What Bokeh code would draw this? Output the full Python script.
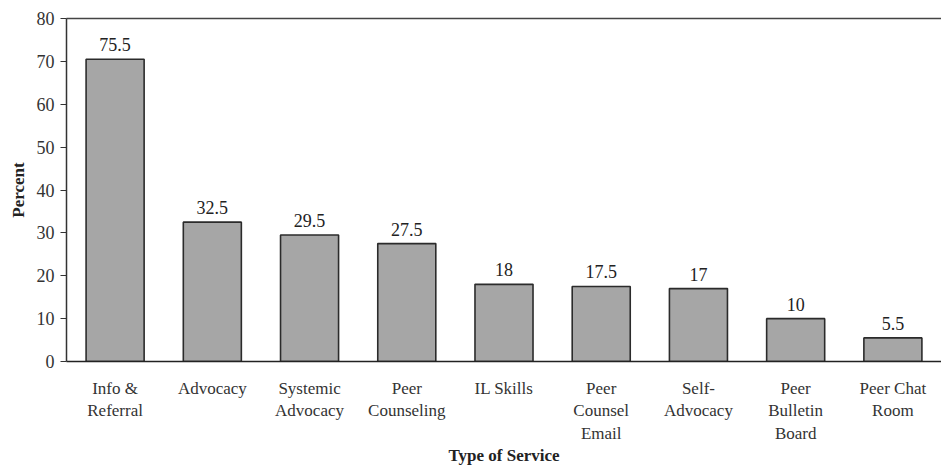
from bokeh.plotting import figure
from bokeh.models import FactorRange, Range1d, LinearAxis, FixedTicker, ColumnDataSource
from bokeh.core.properties import value
from bokeh.embed import file_html
from bokeh.resources import INLINE

categories = ["Info &\nReferral", "Advocacy", "Systemic\nAdvocacy", "Peer\nCounseling",
              "IL Skills", "Peer\nCounsel\nEmail", "Self-\nAdvocacy", "Peer\nBulletin\nBoard",
              "Peer Chat\nRoom"]
bar_heights = [70.5, 32.5, 29.5, 27.5, 18, 17.5, 17, 10, 5.5]
value_labels = ["75.5", "32.5", "29.5", "27.5", "18", "17.5", "17", "10", "5.5"]
y_ticks = [0, 10, 20, 30, 40, 50, 60, 70, 80]

FONT = "Liberation Serif"

src = ColumnDataSource(dict(cat=categories, h=bar_heights, lab=value_labels))

p = figure(width=941, height=468, output_backend="svg", toolbar_location=None,
           x_range=FactorRange(factors=categories, range_padding=0),
           y_range=Range1d(0, 80),
           min_border_left=66, min_border_right=0, min_border_top=18, min_border_bottom=107)
p.outline_line_color = None
p.xgrid.grid_line_color = None
p.ygrid.grid_line_color = None
p.background_fill_color = "white"

p.vbar(x="cat", top="h", width=0.597, source=src, fill_color="#a6a6a6",
       line_color="#2b2b2b", line_width=1.6)
p.text(x="cat", y="h", text="lab", source=src, text_align="center", text_baseline="bottom",
       y_offset=-8, text_font=value(FONT), text_font_size="18px", text_color="#222222")

# y axis
ya = p.yaxis[0]
ya.ticker = FixedTicker(ticks=y_ticks)
ya.axis_line_color = "#333333"
ya.axis_line_width = 1.5
ya.major_tick_line_color = "#333333"
ya.major_tick_out = 6
ya.major_tick_in = 0
ya.minor_tick_line_color = None
ya.major_label_standoff = 6
ya.major_label_text_font = FONT
ya.major_label_text_font_size = "18px"
ya.major_label_text_color = "#333333"
ya.axis_label = "Percent"
ya.axis_label_text_font = FONT
ya.axis_label_text_font_style = "bold"
ya.axis_label_text_font_size = "17px"
ya.axis_label_text_color = "#222222"
ya.axis_label_standoff = 6

# x axis
xa = p.xaxis[0]
xa.axis_line_color = "#222222"
xa.axis_line_width = 1.5
xa.major_tick_line_color = None
xa.major_tick_out = 0
xa.major_label_standoff = 17
xa.major_label_text_font = FONT
xa.major_label_text_font_size = "17px"
xa.major_label_text_color = "#333333"
xa.axis_label = "Type of Service"
xa.axis_label_text_font = FONT
xa.axis_label_text_font_style = "bold"
xa.axis_label_text_font_size = "17px"
xa.axis_label_text_color = "#222222"
xa.axis_label_standoff = 0

# top line
top = LinearAxis(ticker=FixedTicker(ticks=[]), major_tick_line_color=None,
                 minor_tick_line_color=None, major_label_text_font_size="0px",
                 axis_line_color="#444444", axis_line_width=1.5)
p.add_layout(top, "above")

open("out.html", "w").write(file_html(p, INLINE))
